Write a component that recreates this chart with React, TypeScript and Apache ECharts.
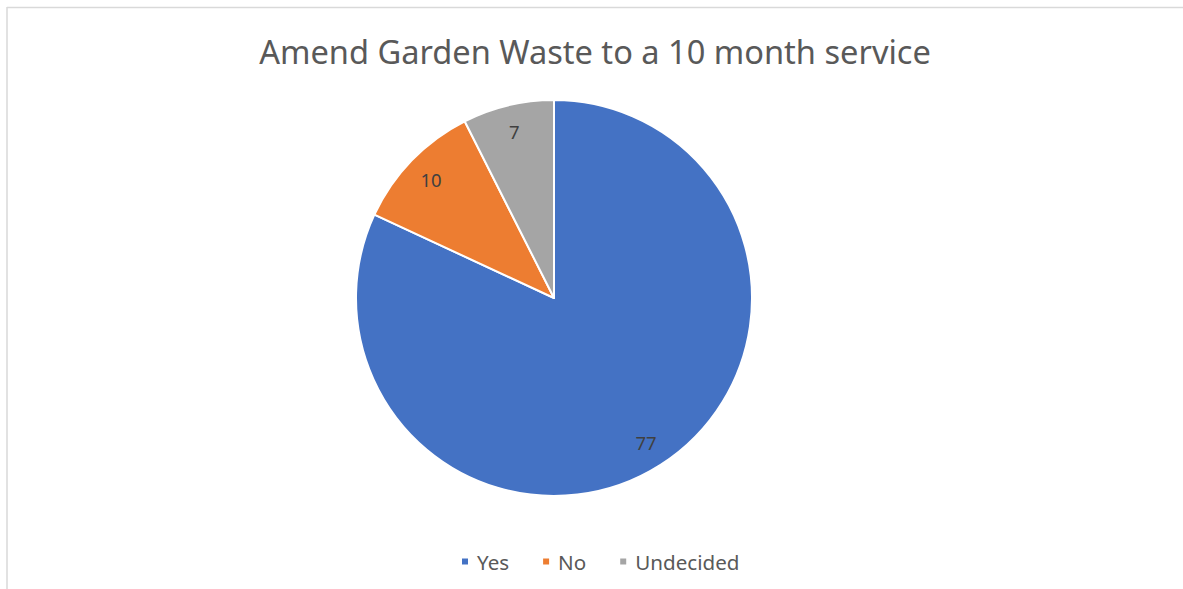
import React, { useEffect, useRef } from "react";
import * as echarts from "echarts";

const categories = ["Yes", "No", "Undecided"];
const values = [77, 10, 7];
const colors = ["#4472C4", "#ED7D31", "#A5A5A5"];
const titleText = "Amend Garden Waste to a 10 month service";

export default function App() {
  const ref = useRef<HTMLDivElement>(null);
  useEffect(() => {
    document.body.style.margin = "0";
    const chart = echarts.init(ref.current!, null, { renderer: "svg" });
    const data = categories.map((name, i) => ({
      name,
      value: values[i],
      itemStyle: { color: colors[i] },
    }));
    chart.setOption({
      animation: false,
      backgroundColor: "#ffffff",
      textStyle: { fontFamily: "Noto Sans" },
      title: {
        text: titleText,
        left: 590,
        top: 30,
        textAlign: "center",
        textStyle: {
          fontFamily: "Noto Sans",
          fontSize: 32.6,
          fontWeight: "normal",
          color: "#595959",
        },
      },
      legend: {
        data: categories.map((name, i) => ({ name, itemStyle: { color: colors[i] } })),
        left: 455,
        top: 546,
        icon: "rect",
        itemWidth: 8,
        itemHeight: 8,
        itemGap: 32,
        textStyle: { fontFamily: "Noto Sans", fontSize: 20.6, color: "#595959", padding: [0, 0, 0, 3] },
      },
      graphic: [
        { type: "line", shape: { x1: 7, y1: 7.5, x2: 1183, y2: 7.5 }, style: { stroke: "#d9d9d9", lineWidth: 1.5 } },
        { type: "line", shape: { x1: 7, y1: 7, x2: 7, y2: 589 }, style: { stroke: "#d9d9d9", lineWidth: 1.5 } },
      ],
      series: [
        {
          type: "pie",
          center: [554, 298],
          radius: [0, 198],
          startAngle: 90,
          clockwise: true,
          label: { show: false },
          labelLine: { show: false },
          itemStyle: { borderColor: "#ffffff", borderWidth: 2 },
          emphasis: { disabled: true },
          data,
        },
        {
          type: "pie",
          center: [554, 298],
          radius: [138, 198],
          startAngle: 90,
          clockwise: true,
          silent: true,
          label: {
            show: true,
            position: "inside",
            formatter: "{c}",
            fontFamily: "Noto Sans",
            fontSize: 18.5,
            color: "#404040",
          },
          labelLine: { show: false },
          itemStyle: { color: "transparent", borderWidth: 0 },
          emphasis: { disabled: true },
          data: categories.map((name, i) => ({ name, value: values[i] })),
        },
      ],
    });
    return () => chart.dispose();
  }, []);
  return <div ref={ref} style={{ width: 1183, height: 589 }} />;
}
